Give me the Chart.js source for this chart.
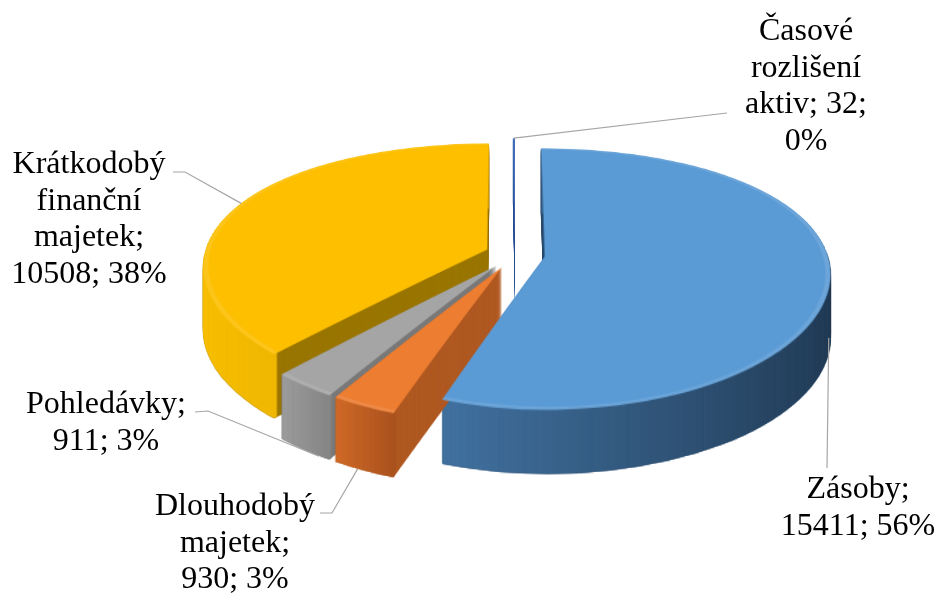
<!DOCTYPE html>
<html>
<head>
<meta charset="utf-8">
<script src="https://cdn.jsdelivr.net/npm/chart.js@4.4.0/dist/chart.umd.min.js"></script>
<style>
  html, body { margin: 0; padding: 0; background: #fff; }
  #wrap { width: 939px; height: 593px; position: relative; }
</style>
</head>
<body>
<div id="wrap"><canvas id="pie"></canvas></div>
<script>
// asset structure
const labels = ['Zásoby', 'Dlouhodobý majetek', 'Pohledávky', 'Krátkodobý finanční majetek', 'Časové rozlišení aktiv'];
const values = [15411, 930, 911, 10508, 32];
const percents = [56, 3, 3, 38, 0];

// colours: top face, outer wall (light -> dark), cut face
const topColors = ['#5b9bd5', '#ed7d31', '#a5a5a5', '#fdbf00', '#4472c4'];
const wallColors = [['#4272a0', '#223b55'], ['#d06a28', '#aa531f'], ['#9d9d9d', '#858585'], ['#f8c000', '#dca400'], ['#3a62a8', '#2c4c86']];
const faceColors = ['#2b4b6d', '#b05a23', '#7a7a7a', '#9a7600', '#2f5597'];

// where each data label sits and how its leader line runs
const labelLayout = [
  { x: 858, y: 490, wrap: 165, at: 0.52, depth: 48, leader: [[827, 468]] },
  { x: 235, y: 507, wrap: 168, at: 0.6, depth: 64, leader: [[320, 513], [332, 513]] },
  { x: 106, y: 405, wrap: 168, at: 0.2, depth: 64, leader: [[195, 412], [208, 411]] },
  { x: 89, y: 165, wrap: 165, at: 0.51, depth: 0, leader: [[173, 172], [185, 172]] },
  { x: 806, y: 32, wrap: 130, at: 0.5, depth: 0, leader: [[727, 113]] }
];

const tilt = 0.46;      // vertical squash of the pie
const depth = 64;       // thickness in px
const explode = 30;     // how far each slice is pulled out
const radius = 283;
// perspective: back of the pie narrower and flatter, front wider and deeper
const persp = { cy: 255, p: 0.12, q: 0.17, ry: radius * tilt };
const lineHeight = 36.5;
const labelFont = '32px "Liberation Serif", "Times New Roman", serif';

function centerX(chart) {
  return (chart.chartArea.left + chart.chartArea.right) / 2;
}
function centerY(chart) {
  return (chart.chartArea.top + chart.chartArea.bottom) / 2;
}

function makeCanvas(w, h) {
  const c = document.createElement('canvas');
  c.width = w;
  c.height = h;
  return c;
}

function squash(c, cy) {
  c.translate(0, cy);
  c.scale(1, tilt);
  c.translate(0, -cy);
}

function sectorPath(ctx, arc, dy) {
  ctx.beginPath();
  ctx.moveTo(arc.x, arc.y + dy);
  ctx.arc(arc.x, arc.y + dy, arc.outerRadius, arc.startAngle, arc.endAngle);
  ctx.closePath();
}

// squashed pie point -> screen point
function project(cx, cy, x, y) {
  const d = y - cy;
  const s = 1 + persp.p * d / persp.ry;
  return [cx + (x - cx) * s, persp.cy + d * (1 + persp.q * d / persp.ry)];
}

// redraw the squashed image row by row with the perspective mapping
function warp(src, dst, cx, cy) {
  const c = dst.getContext('2d');
  c.clearRect(0, 0, dst.width, dst.height);
  const a = persp.q / persp.ry;
  for (let Y = 0; Y < dst.height; Y++) {
    const disc = 1 + 4 * a * (Y + 0.5 - persp.cy);
    if (disc < 0) continue;
    const d = (-1 + Math.sqrt(disc)) / (2 * a);
    const sy = cy + d;
    if (sy < 0 || sy > src.height - 1) continue;
    const s = 1 + persp.p * d / persp.ry;
    c.drawImage(src, 0, sy, src.width, 1, cx - cx * s, Y, src.width * s, 1);
  }
}

// pull every slice out along its bisector
const explodePlugin = {
  id: 'explode',
  afterDatasetUpdate(chart, args) {
    args.meta.data.forEach(arc => {
      const mid = (arc.startAngle + arc.endAngle) / 2;
      arc.x += Math.cos(mid) * explode;
      arc.y += Math.sin(mid) * explode;
    });
  }
};

// squash the pie, give it thickness and perspective
const tiltPlugin = {
  id: 'tilt',
  beforeDatasetsDraw(chart) {
    const ctx = chart.ctx;
    ctx.save();
    squash(ctx, centerY(chart));
  },
  afterDatasetsDraw(chart) {
    const ctx = chart.ctx;
    const cx = centerX(chart), cy = centerY(chart);
    const arcs = chart.getDatasetMeta(0).data;
    const W = chart.canvas.width, H = chart.canvas.height;

    // soft bevel along the rim of each top face
    arcs.forEach(arc => {
      ctx.save();
      sectorPath(ctx, arc, 0);
      ctx.clip();
      ctx.strokeStyle = 'rgba(255,255,255,0.1)';
      ctx.lineWidth = 10;
      ctx.beginPath();
      ctx.arc(arc.x, arc.y, arc.outerRadius, arc.startAngle, arc.endAngle);
      ctx.stroke();
      ctx.restore();
    });
    ctx.restore();

    // keep the top faces, then rebuild the picture
    const tops = makeCanvas(W, H);
    tops.getContext('2d').drawImage(chart.canvas, 0, 0);
    const src = makeCanvas(W, H);
    const dst = makeCanvas(W, H);
    const sc = src.getContext('2d');
    ctx.clearRect(0, 0, W, H);

    const order = arcs.map((a, i) => i).sort((a, b) => arcs[a].y - arcs[b].y);
    order.forEach(i => {
      const arc = arcs[i];

      // cut faces: the slice stamped downwards
      sc.setTransform(1, 0, 0, 1, 0, 0);
      sc.clearRect(0, 0, W, H);
      squash(sc, cy);
      sectorPath(sc, arc, 0);
      sc.fillStyle = faceColors[i];
      sc.fill();
      warp(src, dst, cx, cy);
      for (let d = depth; d >= 1; d--) ctx.drawImage(dst, 0, d);

      // outer wall: the rim stamped downwards
      let minX = Infinity, maxX = -Infinity;
      for (let s = 0; s <= 40; s++) {
        const a = arc.startAngle + (arc.endAngle - arc.startAngle) * s / 40;
        const px = arc.x + Math.cos(a) * arc.outerRadius;
        minX = Math.min(minX, px);
        maxX = Math.max(maxX, px);
      }
      const g = sc.createLinearGradient(minX, 0, maxX + 1, 0);
      g.addColorStop(0, wallColors[i][0]);
      g.addColorStop(1, wallColors[i][1]);
      sc.setTransform(1, 0, 0, 1, 0, 0);
      sc.clearRect(0, 0, W, H);
      squash(sc, cy);
      sc.save();
      sectorPath(sc, arc, 0);
      sc.clip();
      sc.strokeStyle = g;
      sc.lineWidth = 9;
      sc.beginPath();
      sc.arc(arc.x, arc.y, arc.outerRadius, arc.startAngle, arc.endAngle);
      sc.stroke();
      sc.restore();
      warp(src, dst, cx, cy);
      for (let d = depth; d >= 1; d--) ctx.drawImage(dst, 0, d);
    });

    warp(tops, dst, cx, cy);
    ctx.drawImage(dst, 0, 0);
  }
};

function wrapText(ctx, text, maxWidth) {
  const words = text.split(' ');
  const lines = [];
  let line = words[0];
  for (let i = 1; i < words.length; i++) {
    const test = line + ' ' + words[i];
    if (ctx.measureText(test).width > maxWidth) {
      lines.push(line);
      line = words[i];
    } else {
      line = test;
    }
  }
  lines.push(line);
  return lines;
}

// data labels with leader lines
const labelPlugin = {
  id: 'pieLabels',
  afterDraw(chart) {
    const ctx = chart.ctx;
    const cx = centerX(chart), cy = centerY(chart);
    const arcs = chart.getDatasetMeta(0).data;
    ctx.save();
    ctx.font = labelFont;
    arcs.forEach((arc, i) => {
      const lay = labelLayout[i];
      const a = arc.startAngle + (arc.endAngle - arc.startAngle) * lay.at;
      const px = arc.x + Math.cos(a) * arc.outerRadius;
      const py = cy + (arc.y + Math.sin(a) * arc.outerRadius - cy) * tilt;
      const [ax, ay] = project(cx, cy, px, py);

      ctx.strokeStyle = '#a6a6a6';
      ctx.lineWidth = 1.2;
      ctx.beginPath();
      ctx.moveTo(lay.leader[0][0], lay.leader[0][1]);
      lay.leader.slice(1).forEach(p => ctx.lineTo(p[0], p[1]));
      ctx.lineTo(ax, ay + lay.depth);
      ctx.stroke();

      const text = labels[i] + '; ' + values[i] + '; ' + percents[i] + '%';
      const lines = wrapText(ctx, text, lay.wrap);
      ctx.fillStyle = '#000';
      ctx.textAlign = 'center';
      ctx.textBaseline = 'middle';
      lines.forEach((ln, j) => ctx.fillText(ln, lay.x, lay.y + j * lineHeight));
    });
    ctx.restore();
  }
};

const chart = new Chart(document.getElementById('pie'), {
  type: 'pie',
  data: {
    labels: labels,
    datasets: [{
      data: values,
      backgroundColor: topColors,
      borderWidth: 0,
      radius: radius,
      clip: false
    }]
  },
  options: {
    responsive: true,
    maintainAspectRatio: false,
    animation: false,
    events: [],
    layout: { padding: { left: 91, right: 0, top: 0, bottom: 43 } },
    plugins: {
      legend: { display: false },
      tooltip: { enabled: false }
    }
  },
  plugins: [explodePlugin, tiltPlugin, labelPlugin]
});
</script>
</body>
</html>
